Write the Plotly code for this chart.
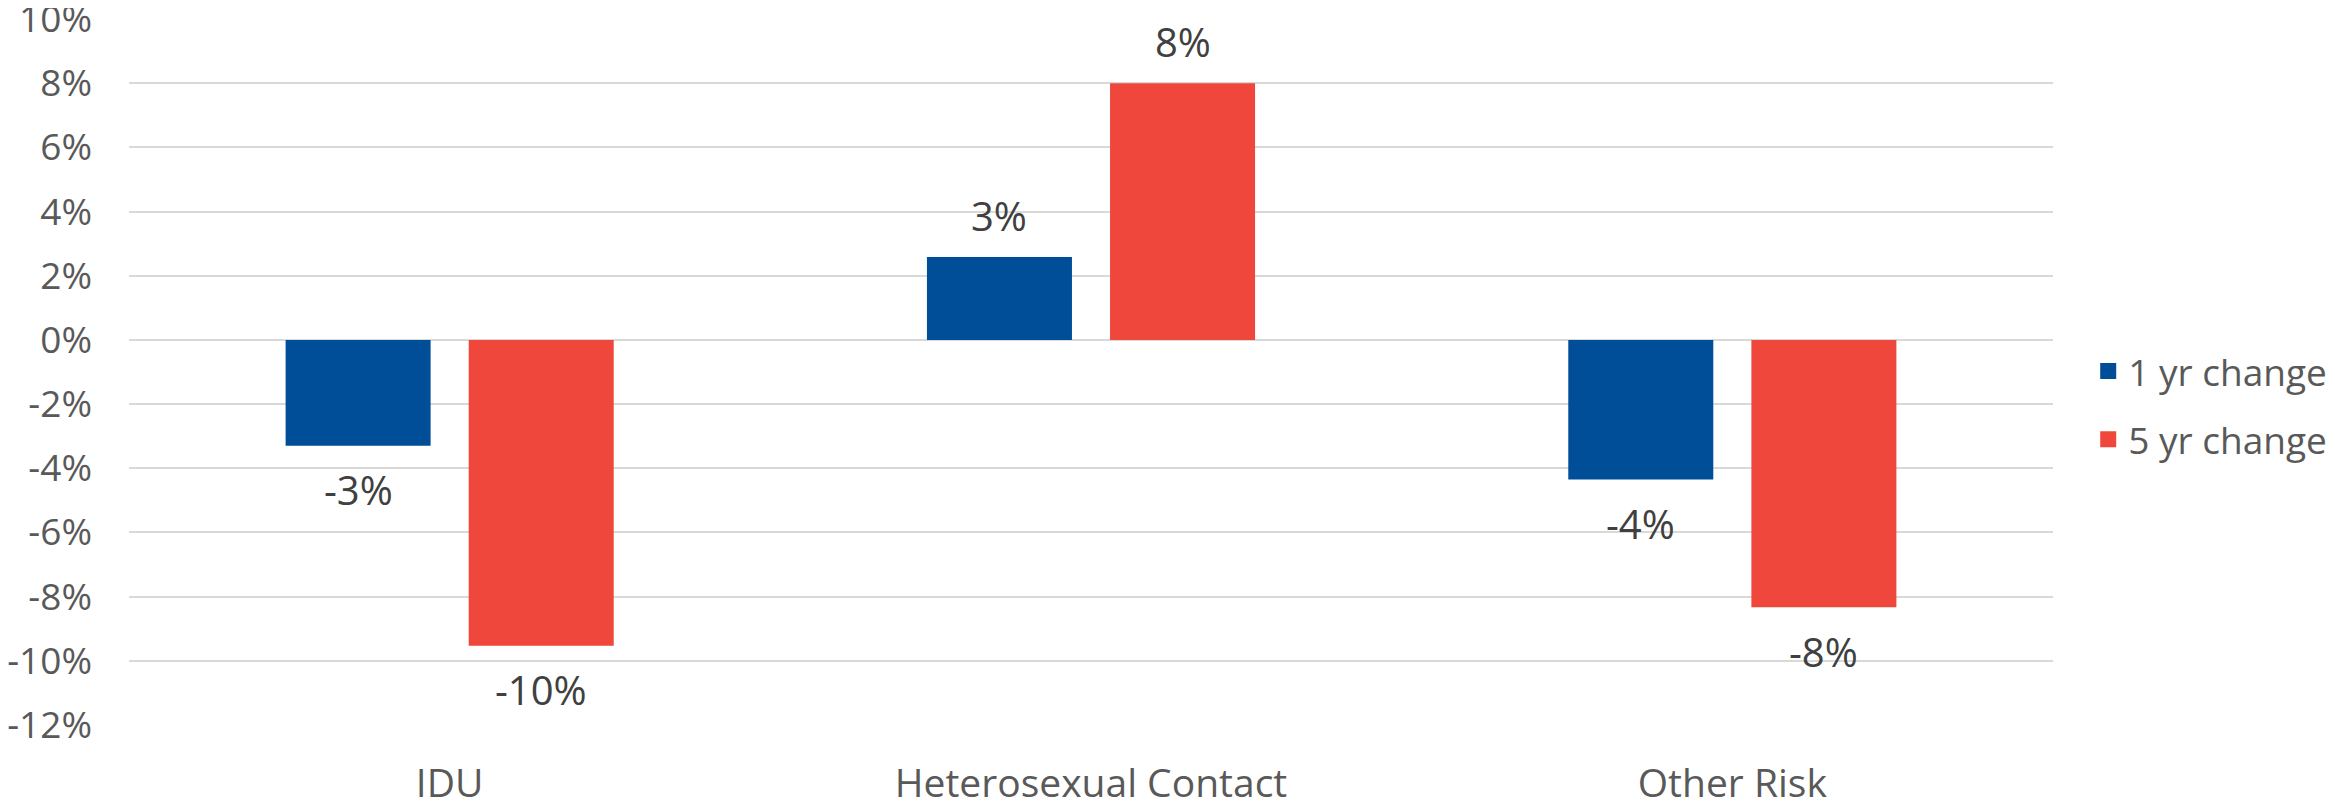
import plotly.graph_objects as go

categories = ["IDU", "Heterosexual Contact", "Other Risk"]
one_yr = [-3.30, 2.58, -4.35]
five_yr = [-9.53, 8.00, -8.33]
series_names = ["1 yr change", "5 yr change"]
tick_vals = [-12, -10, -8, -6, -4, -2, 0, 2, 4, 6, 8, 10]
tick_text = [f"{v}%" for v in tick_vals]

BLUE = "#004E97"
RED = "#EF473B"
FONT = "Open Sans"

# page body has an 8px default margin, so the figure is 8px smaller than the window
W, H = 2327, 801
ML, MR, MT, MB = 121, 282, 11, 84
plot_w = W - ML - MR
cat_px = plot_w / len(categories)
BARGAP = 0.429
BARGROUPGAP = 0.208
slot_px = (1 - BARGAP) * cat_px / 2

fig = go.Figure()
for name, vals, col in [(series_names[0], one_yr, BLUE), (series_names[1], five_yr, RED)]:
    fig.add_trace(go.Bar(x=categories, y=vals, name=name, marker=dict(color=col, line=dict(width=0)),
                         showlegend=False, hoverinfo="skip"))
# legend entries (larger square swatches)
for name, col in [(series_names[0], BLUE), (series_names[1], RED)]:
    fig.add_trace(go.Scatter(x=[None], y=[None], mode="markers", name=name, legendgroup=name,
                             marker=dict(symbol="square", size=16, color=col)))

# value labels
for vals, sign in [(one_yr, -1), (five_yr, 1)]:
    for c, v in zip(categories, vals):
        fig.add_annotation(x=c, y=v, text=f"{round(v):.0f}%", showarrow=False,
                           xshift=sign * slot_px / 2, yshift=42 if v > 0 else -44,
                           yanchor="middle", xanchor="center",
                           font=dict(family=FONT, size=40, color="#404040"))

fig.update_layout(
    width=W, height=H,
    margin=dict(l=ML, r=MR, t=MT, b=MB, pad=0, autoexpand=False),
    paper_bgcolor="white", plot_bgcolor="white",
    barmode="group", bargap=BARGAP, bargroupgap=BARGROUPGAP,
    font=dict(family=FONT, color="#595959"),
    legend=dict(x=1.0183, y=0.4525, xanchor="left", yanchor="middle",
                font=dict(family=FONT, size=37, color="#595959"),
                tracegroupgap=17, bgcolor="rgba(0,0,0,0)", borderwidth=0),
    xaxis=dict(showgrid=False, showline=False, zeroline=False, ticks="", automargin=False,
               tickfont=dict(family=FONT, size=39, color="#595959"), ticklabelstandoff=32),
    yaxis=dict(range=[-12, 10], tickvals=tick_vals, ticktext=tick_text, showgrid=True,
               gridcolor="#D9D9D9", gridwidth=2, zeroline=False, showline=False, ticks="",
               automargin=False, ticklabeloverflow="allow",
               tickfont=dict(family=FONT, size=37, color="#595959"), ticklabelstandoff=36),
)

fig.write_html("out.html")
